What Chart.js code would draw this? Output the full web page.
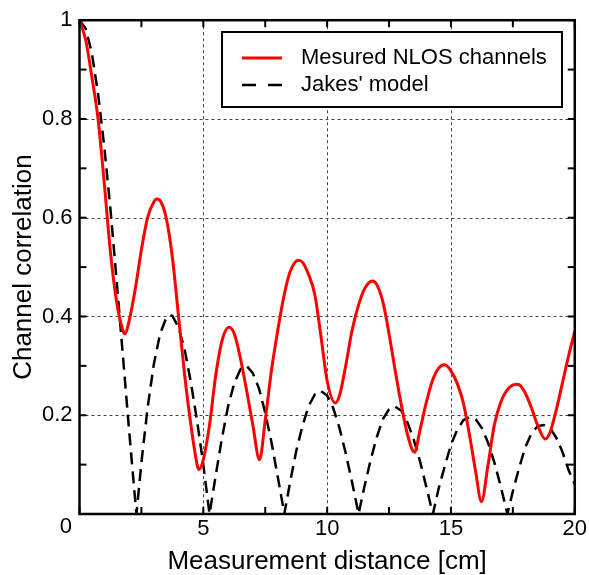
<!DOCTYPE html>
<html>
<head>
<meta charset="utf-8">
<script src="https://cdn.jsdelivr.net/npm/chart.js@4.4.1/dist/chart.umd.min.js"></script>
<style>
html, body { margin: 0; padding: 0; background: #fff; }
</style>
</head>
<body>
<canvas id="canvas" width="589" height="575"></canvas>
<script>
// values
var measuredDist = [0, 0.25, 0.5, 0.75, 1.0, 1.25, 1.5, 1.75, 1.83, 2.0, 2.25, 2.5, 2.75, 3.0, 3.13, 3.25, 3.5, 3.75, 4.0, 4.25, 4.5, 4.75, 4.82,
   5.0, 5.25, 5.5, 5.75, 6.03, 6.25, 6.5, 6.75, 7.0, 7.27, 7.5, 7.75, 8.0, 8.25, 8.5, 8.84, 9.0, 9.25, 9.5, 9.75, 10.0, 10.33,
   10.5, 10.75, 11.0, 11.25, 11.5, 11.83, 12.0, 12.25, 12.5, 12.75, 13.0, 13.25, 13.53, 13.75, 14.0, 14.25, 14.5, 14.75,
   15.0, 15.25, 15.5, 15.75, 16.0, 16.23, 16.5, 16.75, 17.0, 17.25, 17.63, 17.75, 18.0, 18.25, 18.5, 18.81, 19.0, 19.25,
   19.5, 19.75, 20.0];
var measuredCorr = [1.0, 0.96, 0.885, 0.80, 0.67, 0.53, 0.43, 0.372, 0.365, 0.39, 0.455, 0.535, 0.60, 0.632, 0.638, 0.635, 0.60, 0.52, 0.40, 0.28, 0.18, 0.10, 0.09,
   0.11, 0.18, 0.28, 0.35, 0.378, 0.365, 0.315, 0.25, 0.18, 0.11, 0.19, 0.29, 0.37, 0.44, 0.49, 0.514, 0.51, 0.485, 0.445, 0.36, 0.27, 0.225,
   0.24, 0.30, 0.37, 0.42, 0.455, 0.472, 0.465, 0.43, 0.365, 0.29, 0.22, 0.16, 0.125, 0.17, 0.225, 0.27, 0.295, 0.302,
   0.29, 0.265, 0.225, 0.16, 0.085, 0.025, 0.10, 0.18, 0.225, 0.25, 0.263, 0.262, 0.245, 0.215, 0.18, 0.152, 0.165, 0.21,
   0.265, 0.32, 0.37];

var jakesDist = [0, 0.25, 0.5, 0.75, 1.0, 1.25, 1.5, 1.75, 2.0, 2.25, 2.3, 2.5, 2.75, 3.0, 3.25, 3.5, 3.66, 3.75, 4.0, 4.25, 4.5, 4.75,
   5.0, 5.25, 5.5, 5.75, 6.0, 6.25, 6.5, 6.71, 6.75, 7.0, 7.25, 7.5, 7.75, 8.0, 8.25, 8.27, 8.5, 8.75, 9.0, 9.25, 9.5, 9.72,
   10.0, 10.25, 10.5, 10.75, 11.0, 11.25, 11.27, 11.5, 11.75, 12.0, 12.25, 12.5, 12.73, 13.0, 13.25, 13.5, 13.75, 14.0, 14.25, 14.27,
   14.5, 14.75, 15.0, 15.25, 15.5, 15.75, 16.0, 16.25, 16.5, 16.75, 17.0, 17.25, 17.28, 17.5, 17.75, 18.0, 18.25, 18.5, 18.75,
   19.0, 19.25, 19.5, 19.75, 20.0];
var jakesCorr = [1.0, 0.983, 0.933, 0.851, 0.744, 0.617, 0.473, 0.322, 0.171, 0.027, 0, 0.104, 0.215, 0.303, 0.364, 0.397, 0.403, 0.401, 0.378, 0.332, 0.266, 0.188,
   0.100, 0, 0.078, 0.153, 0.218, 0.265, 0.293, 0.300, 0.300, 0.285, 0.254, 0.205, 0.146, 0.077, 0.007, 0, 0.063, 0.127, 0.178, 0.218, 0.242, 0.250,
   0.240, 0.214, 0.174, 0.123, 0.066, 0.005, 0, 0.054, 0.108, 0.155, 0.192, 0.212, 0.218, 0.209, 0.185, 0.150, 0.107, 0.056, 0.004, 0,
   0.051, 0.097, 0.140, 0.170, 0.190, 0.196, 0.192, 0.174, 0.144, 0.105, 0.058, 0.006, 0, 0.046, 0.093, 0.135, 0.163, 0.178, 0.180,
   0.174, 0.155, 0.126, 0.089, 0.06];

var xTicks = [0, 5, 10, 15, 20];
var xMinorTicks = [2.5, 7.5, 12.5, 17.5];
var yTicks = [0, 0.2, 0.4, 0.6, 0.8, 1];
var yMinorTicks = [0.1, 0.3, 0.5, 0.7, 0.9];

var seriesLabels = ['Mesured NLOS channels', "Jakes' model"];

var FONT = '"Liberation Sans", Arial, Helvetica, sans-serif';
Chart.defaults.font.family = FONT;
Chart.defaults.color = '#000';

function toPoints(xs, ys){
   return xs.map(function(x, i){ return {x: x, y: ys[i]}; });
}

function line(ctx, x1, y1, x2, y2){
   ctx.beginPath();
   ctx.moveTo(x1, y1);
   ctx.lineTo(x2, y2);
   ctx.stroke();
}

// dotted grid, boxed axes with inward ticks, boxed legend
var framePlugin = {
   id: 'frame',
   beforeDatasetsDraw: function(chart){
      var ctx = chart.ctx, a = chart.chartArea;
      var xs = chart.scales.x, ys = chart.scales.y;
      ctx.save();
      ctx.strokeStyle = '#444';
      ctx.lineWidth = 1;
      ctx.setLineDash([3, 3]);
      xTicks.slice(1, -1).forEach(function(v){
         var p = Math.round(xs.getPixelForValue(v)) + 0.5;
         line(ctx, p, a.top, p, a.bottom);
      });
      yTicks.slice(1, -1).forEach(function(v){
         var p = Math.round(ys.getPixelForValue(v)) + 0.5;
         line(ctx, a.left, p, a.right, p);
      });
      ctx.restore();
   },
   afterDatasetsDraw: function(chart){
      var ctx = chart.ctx, a = chart.chartArea;
      var xs = chart.scales.x, ys = chart.scales.y;
      var tl = 7;
      ctx.save();
      ctx.strokeStyle = '#000';
      ctx.lineWidth = 2;
      xTicks.concat(xMinorTicks).forEach(function(v){
         var p = xs.getPixelForValue(v);
         line(ctx, p, a.bottom, p, a.bottom - tl);
         line(ctx, p, a.top, p, a.top + tl);
      });
      yTicks.concat(yMinorTicks).forEach(function(v){
         var p = ys.getPixelForValue(v);
         line(ctx, a.left, p, a.left + tl, p);
         line(ctx, a.right, p, a.right - tl, p);
      });
      ctx.lineWidth = 2.5;
      ctx.strokeRect(a.left, a.top, a.right - a.left, a.bottom - a.top);

      // shared corner label "0"
      ctx.font = '22px ' + FONT;
      ctx.fillStyle = '#000';
      ctx.textAlign = 'right';
      ctx.textBaseline = 'middle';
      ctx.fillText('0', 72, 527);

      // legend
      var bx = 222, by = 32, bw = 340, bh = 75;
      ctx.fillStyle = '#fff';
      ctx.fillRect(bx, by, bw, bh);
      ctx.lineWidth = 2;
      ctx.strokeRect(bx, by, bw, bh);
      var rows = [58, 85];
      chart.data.datasets.forEach(function(ds, i){
         ctx.strokeStyle = ds.borderColor;
         ctx.lineWidth = ds.borderWidth;
         ctx.setLineDash(i === 1 ? [14, 12] : []);
         line(ctx, 242, rows[i], 282, rows[i]);
         ctx.setLineDash([]);
         ctx.fillStyle = '#000';
         ctx.textAlign = 'left';
         ctx.fillText(ds.label, 301, rows[i]);
      });
      ctx.restore();
   }
};

var config = {
   type: 'line',
   data: {
      datasets: [{
         label: seriesLabels[0],
         data: toPoints(measuredDist, measuredCorr),
         borderColor: '#ff0000',
         borderWidth: 3,
         pointRadius: 0,
         cubicInterpolationMode: 'monotone',
         fill: false
      }, {
         label: seriesLabels[1],
         data: toPoints(jakesDist, jakesCorr),
         borderColor: '#000000',
         borderWidth: 2.5,
         borderDash: [12, 7],
         pointRadius: 0,
         tension: 0,
         fill: false
      }]
   },
   options: {
      responsive: false,
      animation: false,
      layout: { padding: { top: 17, right: 13, left: 0, bottom: 0 } },
      plugins: {
         legend: { display: false },
         tooltip: { enabled: false }
      },
      scales: {
         x: {
            type: 'linear',
            min: 0,
            max: 20,
            afterBuildTicks: function(s){ s.ticks = xTicks.map(function(v){ return {value: v}; }); },
            afterFit: function(s){ s.height = 61; },
            grid: { display: false, drawTicks: false },
            border: { display: false },
            ticks: {
               font: { size: 22 },
               color: '#000',
               padding: 2,
               maxRotation: 0,
               autoSkip: false,
               callback: function(v){ return v === 0 ? '' : String(v); }
            },
            title: {
               display: true,
               text: 'Measurement distance [cm]',
               font: { size: 26, lineHeight: 1 },
               color: '#000',
               padding: 0
            }
         },
         y: {
            type: 'linear',
            min: 0,
            max: 1,
            afterBuildTicks: function(s){ s.ticks = yTicks.map(function(v){ return {value: v}; }); },
            afterFit: function(s){ s.width = 79.5; },
            grid: { display: false, drawTicks: false },
            border: { display: false },
            ticks: {
               font: { size: 22 },
               color: '#000',
               padding: 7,
               autoSkip: false,
               callback: function(v){ return v === 0 ? '' : String(v); }
            },
            title: {
               display: true,
               text: 'Channel correlation',
               font: { size: 26, lineHeight: 1 },
               color: '#000',
               padding: { top: 11, bottom: 0 }
            }
         }
      }
   },
   plugins: [framePlugin]
};

window.corrChart = new Chart(document.getElementById('canvas'), config);
</script>
</body>
</html>
